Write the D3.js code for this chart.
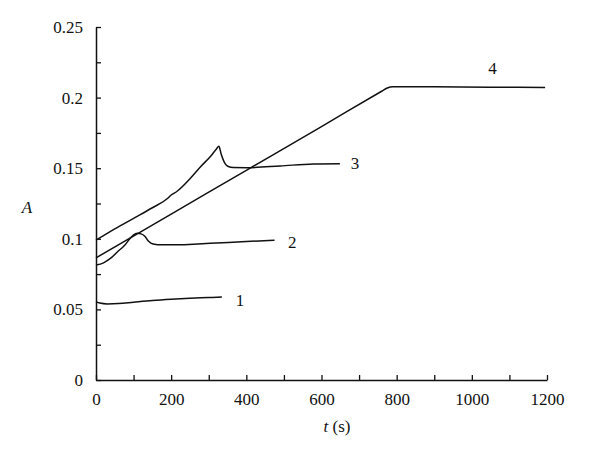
<!DOCTYPE html>
<html>
<head>
<meta charset="utf-8">
<script src="https://cdn.jsdelivr.net/npm/d3@7"></script>
<style>
  body { margin: 0; background: #fff; }
  svg { display: block; }
  svg text { font-family: "Liberation Serif", "Times New Roman", Times, "DejaVu Serif", serif; fill: #111; }
</style>
</head>
<body>
<svg id="chart" width="600" height="457"></svg>
<script>
// curve 1
const t1 = [0, 10, 30, 60, 100, 150, 200, 250, 300, 335];
const a1 = [0.0555, 0.0545, 0.0539, 0.0541, 0.0551, 0.0563, 0.0572, 0.0579, 0.0584, 0.0588];

// curve 2
const t2 = [0, 20, 40, 60, 75, 90, 100, 110, 120, 130, 140, 152, 175, 210, 260, 320, 400, 475];
const a2 = [0.0814, 0.0830, 0.0865, 0.0915, 0.0950, 0.1000, 0.1028, 0.1039, 0.1035, 0.1018, 0.0982, 0.0963, 0.0957, 0.0957, 0.0962, 0.0970, 0.0981, 0.0990];

// curve 3
const t3 = [0, 50, 100, 150, 190, 200, 215, 250, 280, 305, 320, 327, 333, 343, 352, 365, 401, 490, 578, 649];
const a3 = [0.0990, 0.1070, 0.1145, 0.1220, 0.1285, 0.1310, 0.1335, 0.1425, 0.1515, 0.1585, 0.1635, 0.1655, 0.1600, 0.1534, 0.1512, 0.1505, 0.1504, 0.1516, 0.1530, 0.1532];

// curve 4
const t4 = [0, 200, 400, 600, 760, 775, 790, 900, 1050, 1195];
const a4 = [0.0865, 0.1175, 0.1485, 0.1795, 0.2045, 0.2068, 0.2077, 0.2076, 0.2074, 0.2072];

const seriesNames = ['1', '2', '3', '4'];
// label anchor points (t, A)
const labelT = [383, 522, 689, 1055];
const labelA = [0.0525, 0.0935, 0.1495, 0.2165];

const xTicks = [0, 100, 200, 300, 400, 500, 600, 700, 800, 900, 1000, 1100, 1200];
const yTicks = [0, 0.025, 0.05, 0.075, 0.1, 0.125, 0.15, 0.175, 0.2, 0.225, 0.25];

const width = 600, height = 457;
const margin = { top: 27, right: 53, bottom: 77, left: 96 };
const serif = '"Liberation Serif", "Times New Roman", Times, "DejaVu Serif", serif';

const svg = d3.select('#chart');

const xScale = d3.scaleLinear()
  .domain([0, 1200])
  .range([margin.left, width - margin.right]);

const yScale = d3.scaleLinear()
  .domain([0, 0.25])
  .range([height - margin.bottom, margin.top]);

const series = [[t1, a1], [t2, a2], [t3, a3], [t4, a4]]
  .map(([ts, as]) => ts.map((t, i) => ({ t, a: as[i] })));

const line = d3.line()
  .x(d => xScale(d.t))
  .y(d => yScale(d.a))
  .curve(d3.curveMonotoneX);

svg.selectAll('path.curve')
  .data(series)
  .enter()
  .append('path')
  .attr('class', 'curve')
  .attr('d', line)
  .attr('fill', 'none')
  .attr('stroke', '#111')
  .attr('stroke-width', 1.5);

// axes - ticks point inward
const xAxis = d3.axisBottom(xScale)
  .tickValues(xTicks)
  .tickSizeInner(-5)
  .tickSizeOuter(0)
  .tickPadding(13)
  .tickFormat(d => d % 200 === 0 ? d : '');

const yAxis = d3.axisLeft(yScale)
  .tickValues(yTicks)
  .tickSizeInner(-5)
  .tickSizeOuter(0)
  .tickPadding(13)
  .tickFormat(d => Math.round(d * 1000) % 50 === 0 ? d3.format('~g')(d) : '');

const gx = svg.append('g')
  .attr('transform', `translate(0, ${height - margin.bottom})`)
  .call(xAxis);

const gy = svg.append('g')
  .attr('transform', `translate(${margin.left}, 0)`)
  .call(yAxis);

[gx, gy].forEach(g => {
  g.attr('font-family', serif).attr('font-size', 17);
  g.select('.domain').attr('stroke', '#111').attr('stroke-width', 1.5);
  g.selectAll('.tick line').attr('stroke', '#111').attr('stroke-width', 1.3);
  g.selectAll('.tick text').attr('fill', '#111');
});

// series labels
svg.selectAll('text.lbl')
  .data(seriesNames)
  .enter()
  .append('text')
  .attr('class', 'lbl')
  .attr('x', (d, i) => xScale(labelT[i]))
  .attr('y', (d, i) => yScale(labelA[i]))
  .attr('text-anchor', 'middle')
  .attr('font-size', 17)
  .text(d => d);

// axis titles
const xTitle = svg.append('text')
  .attr('x', 337)
  .attr('y', 432)
  .attr('text-anchor', 'middle')
  .attr('font-size', 17);
xTitle.append('tspan').attr('font-style', 'italic').text('t');
xTitle.append('tspan').text(' (s)');

svg.append('text')
  .attr('x', 27)
  .attr('y', 213)
  .attr('text-anchor', 'middle')
  .attr('font-size', 17)
  .attr('font-style', 'italic')
  .text('A');
</script>
</body>
</html>
